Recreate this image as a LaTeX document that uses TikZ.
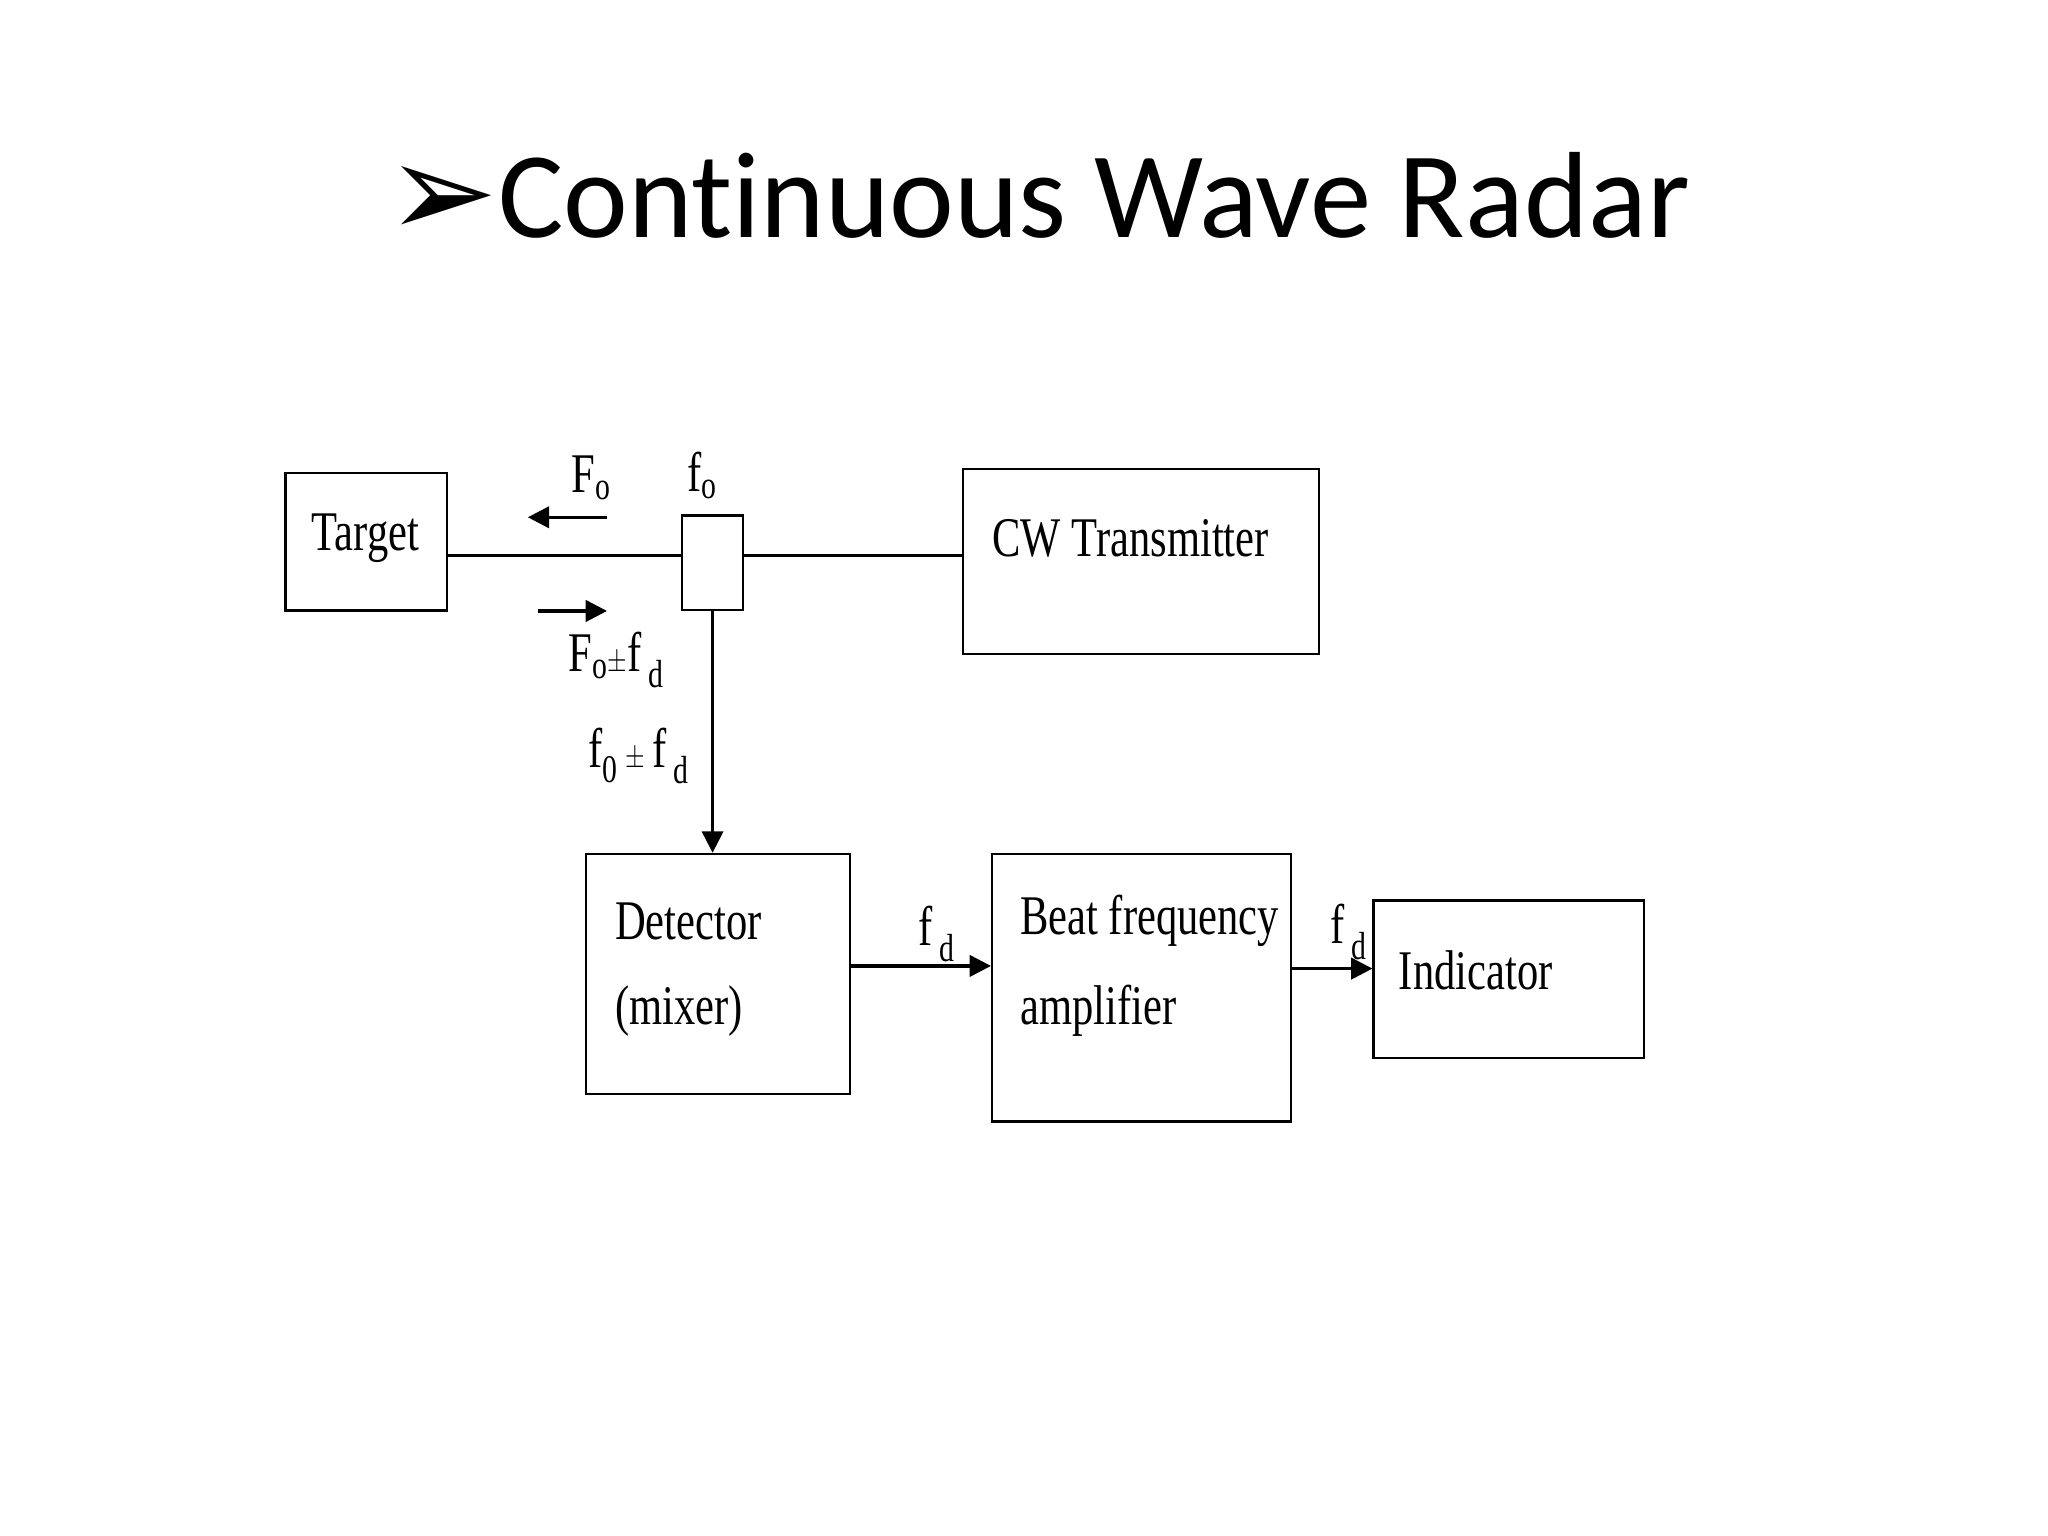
\documentclass[tikz,border=0pt]{standalone}
\usepackage{fontspec}
\setmainfont{Liberation Serif}
\newfontfamily\calfont[Ligatures={NoCommon,NoRare,NoDiscretionary}]{Carlito}
\newfontfamily\dvfont{DejaVu Sans}
\usetikzlibrary{arrows.meta}
\begin{document}
\begin{tikzpicture}[x=0.99pt,y=-0.99pt,
  box/.style={draw,line width=1.8pt,inner sep=0},
  lbl/.style={font=\fontsize{42}{50}\selectfont,xscale=0.76,anchor=west,inner sep=0},
  sym/.style={font=\fontsize{42}{50}\selectfont,xscale=0.76,inner sep=0},
  ln/.style={line width=1.8pt},
  ar/.style={line width=2.4pt,-{Triangle[length=16pt,width=16pt]}}]
\useasboundingbox (0,0) rectangle (1552,1164);
\node[font=\calfont\fontsize{92}{100}\selectfont,inner sep=0] (title) at (787,148) {{\dvfont\fontsize{100}{100}\selectfont ➢}Continuous Wave Radar};
\node[box,minimum width=121pt,minimum height=103pt] (target) at (277.5,410.5) {};
\node[sym] at (277,408) {Target};
\node[box,minimum width=46pt,minimum height=71pt] (coup) at (540,426.5) {};
\node[box,minimum width=267pt,minimum height=139pt] (cw) at (864.5,425.5) {};
\node[lbl] at (752,408) {CW Transmitter};
\node[box,minimum width=198pt,minimum height=180pt] (det) at (544,738) {};
\node[lbl] at (466,698) {Detector};
\node[lbl] at (466,766) {(mixer)};
\node[box,minimum width=224pt,minimum height=201pt] (beat) at (865,748.5) {};
\node[lbl] at (773,698) {Beat frequency};
\node[lbl] at (773,766) {amplifier};
\node[box,minimum width=203pt,minimum height=118pt] (ind) at (1143.5,742) {};
\node[lbl] at (1060,735) {Indicator};
\draw[ln] (target.east |- 0,421) -- (coup.west |- 0,421);
\draw[ln] (coup.east |- 0,421) -- (cw.west |- 0,421);
\coordinate (a1s) at (460,392); \coordinate (a1e) at (400,392);
\draw[ar] (a1s) -- (a1e);
\coordinate (a2s) at (408,463); \coordinate (a2e) at (460,463);
\draw[ar] (a2s) -- (a2e);
\draw[ar,line width=1.8pt] (coup.south) -- (det.north -| coup.south);
\draw[ar] (det.east |- 0,732) -- (beat.west |- 0,732);
\draw[ar] (beat.east |- 0,734) -- (ind.west |- 0,734);
\node[sym] at (448,362) {F\textsubscript{o}};
\node[sym] at (532,360) {f\textsubscript{o}};
\node[sym] at (467,500) {F\textsubscript{o}$\pm$f\,\textsubscript{d}};
\node[sym] at (484,573) {f\textsubscript{0}\,$\pm$\,f\,\textsubscript{d}};
\node[sym] at (710,708) {f\,\textsubscript{d}};
\node[sym] at (1022,706) {f\,\textsubscript{d}};
\end{tikzpicture}
\end{document}
